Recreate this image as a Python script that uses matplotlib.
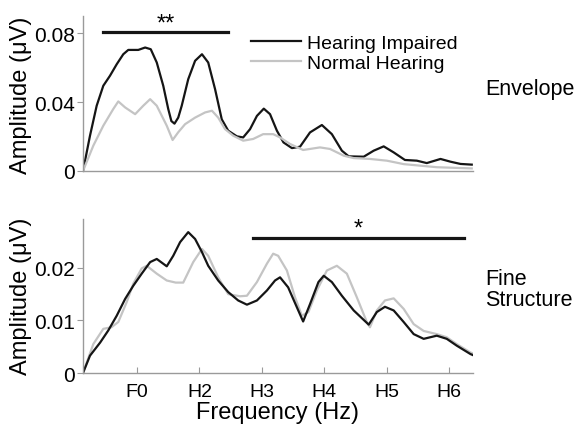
import numpy as np
import matplotlib
matplotlib.use("Agg")
import matplotlib.pyplot as plt

plt.rcParams['font.family'] = ['Liberation Sans', 'DejaVu Sans']

# harmonic positions: F0 = 1, H2 = 2, ... H6 = 6
tick_pos = [1, 2, 3, 4, 5, 6]
tick_labels = ["F0", "H2", "H3", "H4", "H5", "H6"]

# Envelope panel
hi_env_x = [0.135, 0.247, 0.354, 0.46, 0.567, 0.675, 0.78, 0.86, 1.02, 1.13, 1.22, 1.316, 1.42,
            1.50, 1.55, 1.60, 1.66, 1.716, 1.82, 1.93, 2.04, 2.14, 2.25, 2.357, 2.46, 2.60, 2.70,
            2.81, 2.92, 3.03, 3.13, 3.24, 3.345, 3.48, 3.61, 3.77, 3.96, 4.12, 4.28, 4.39, 4.63,
            4.79, 4.95, 5.11, 5.29, 5.48, 5.64, 5.86, 6.02, 6.18, 6.36]
hi_env = [0, 0.0205, 0.0379, 0.0495, 0.0553, 0.062, 0.0678, 0.0703, 0.0703, 0.0717, 0.0707,
          0.063, 0.0495, 0.036, 0.029, 0.0275, 0.031, 0.0379, 0.0533, 0.064, 0.0678, 0.063,
          0.0475, 0.030, 0.0234, 0.0201, 0.0195, 0.0243, 0.032, 0.0362, 0.033, 0.0234, 0.0166,
          0.0133, 0.0141, 0.0224, 0.0267, 0.0214, 0.0118, 0.0085, 0.0083, 0.0118, 0.0143,
          0.0108, 0.0064, 0.006, 0.0046, 0.007, 0.0054, 0.0041, 0.0037]
nh_env_x = [0.135, 0.30, 0.46, 0.62, 0.70, 0.81, 0.97, 1.10, 1.21, 1.316, 1.476, 1.57, 1.66,
            1.77, 1.93, 2.09, 2.20, 2.30, 2.41, 2.54, 2.70, 2.86, 3.02, 3.18, 3.29, 3.45, 3.66,
            3.93, 4.09, 4.31, 4.47, 4.73, 5.0, 5.27, 5.8, 6.36]
nh_env = [0, 0.0147, 0.0263, 0.036, 0.0404, 0.0369, 0.033, 0.0379, 0.0417, 0.0379, 0.0263,
          0.018, 0.0225, 0.0272, 0.031, 0.034, 0.035, 0.031, 0.0243, 0.0205, 0.0176, 0.0186,
          0.0214, 0.0214, 0.0195, 0.0157, 0.0122, 0.0137, 0.0128, 0.0089, 0.0075, 0.007,
          0.006, 0.004, 0.0022, 0.0015]

# Fine structure panel
hi_tfs_x = [0.135, 0.247, 0.41, 0.54, 0.675, 0.81, 0.94, 1.075, 1.21, 1.316, 1.476, 1.58, 1.69,
            1.82, 1.93, 2.04, 2.14, 2.30, 2.46, 2.62, 2.76, 2.92, 3.08, 3.21, 3.29, 3.42, 3.56,
            3.66, 3.77, 3.905, 3.99, 4.12, 4.28, 4.47, 4.71, 4.84, 4.97, 5.11, 5.27, 5.43, 5.59,
            5.80, 5.96, 6.12, 6.34, 6.38]
hi_tfs = [0, 0.0033, 0.0058, 0.0081, 0.0109, 0.0141, 0.0166, 0.0189, 0.0211, 0.0217, 0.0203,
          0.0223, 0.0249, 0.0268, 0.0255, 0.023, 0.0204, 0.0176, 0.0154, 0.0138, 0.013, 0.0138,
          0.0157, 0.0176, 0.0182, 0.0163, 0.0125, 0.0098, 0.0131, 0.0173, 0.0185, 0.0173,
          0.0147, 0.0119, 0.0092, 0.0116, 0.0126, 0.0119, 0.0097, 0.0074, 0.0065, 0.0071,
          0.0065, 0.0052, 0.0036, 0.0034]
nh_tfs_x = [0.135, 0.30, 0.46, 0.59, 0.70, 0.835, 0.94, 1.075, 1.155, 1.316, 1.476, 1.62, 1.74,
            1.90, 2.04, 2.14, 2.30, 2.46, 2.65, 2.76, 2.92, 3.08, 3.18, 3.26, 3.40, 3.53, 3.64,
            3.745, 3.88, 4.04, 4.20, 4.36, 4.52, 4.68, 4.73, 4.84, 4.97, 5.11, 5.27, 5.43, 5.59,
            5.80, 5.96, 6.12, 6.34, 6.38]
nh_tfs = [0, 0.0055, 0.0084, 0.0087, 0.0097, 0.0135, 0.017, 0.0199, 0.0204, 0.0189, 0.0176,
          0.0172, 0.0172, 0.0211, 0.0236, 0.0223, 0.0182, 0.015, 0.0146, 0.0147, 0.0173, 0.0208,
          0.0227, 0.0223, 0.0195, 0.0144, 0.0109, 0.0116, 0.0157, 0.0195, 0.0204, 0.0189,
          0.0144, 0.0097, 0.0087, 0.0119, 0.0138, 0.0142, 0.0122, 0.0093, 0.008, 0.0074,
          0.0068, 0.0055, 0.0039, 0.0037]

# significance bars (start, end, height, label)
sig_env = (0.455, 2.46, 0.0806, "**")
sig_tfs = (2.86, 6.24, 0.0257, "*")

black = "#151515"
grey = "#c4c4c4"
spine_c = "#9a9a9a"

fig = plt.figure(figsize=(5.78, 4.31), dpi=100)
ax1 = fig.add_axes([83 / 578, 1 - 172 / 431, 390 / 578, 155 / 431])
ax2 = fig.add_axes([83 / 578, 1 - 374 / 431, 390 / 578, 154 / 431])

ax1.plot(hi_env_x, hi_env, color=black, lw=1.6, label="Hearing Impaired", solid_joinstyle='round')
ax1.plot(nh_env_x, nh_env, color=grey, lw=1.6, label="Normal Hearing", solid_joinstyle='round')
ax2.plot(nh_tfs_x, nh_tfs, color=grey, lw=1.6, solid_joinstyle='round')
ax2.plot(hi_tfs_x, hi_tfs, color=black, lw=1.6, solid_joinstyle='round')

for ax in (ax1, ax2):
    ax.set_xlim(0.135, 6.38)
    for s in ["top", "right"]:
        ax.spines[s].set_visible(False)
    for s in ["left", "bottom"]:
        ax.spines[s].set_color(spine_c)
        ax.spines[s].set_linewidth(1.0)
    ax.tick_params(axis='y', direction='out', length=4, color=spine_c, labelsize=15, pad=2)

ax1.set_ylim(0, 0.09)
ax1.set_yticks([0, 0.04, 0.08])
ax1.set_yticklabels(["0", "0.04", "0.08"])
ax1.set_xticks([])

ax2.set_ylim(0, 0.0293)
ax2.set_yticks([0, 0.01, 0.02])
ax2.set_yticklabels(["0", "0.01", "0.02"])
ax2.set_xticks(tick_pos)
ax2.set_xticklabels(tick_labels)
ax2.tick_params(axis='x', direction='in', length=4, color=spine_c, labelsize=14, pad=7)

# significance markers
ax1.plot([sig_env[0], sig_env[1]], [sig_env[2], sig_env[2]], color=black, lw=2.3, clip_on=False)
ax1.text((sig_env[0] + sig_env[1]) / 2, sig_env[2] + 0.0015, sig_env[3], ha='center',
         va='baseline', fontsize=17, clip_on=False)
ax2.plot([sig_tfs[0], sig_tfs[1]], [sig_tfs[2], sig_tfs[2]], color=black, lw=2.3, clip_on=False)
ax2.text((sig_tfs[0] + sig_tfs[1]) / 2, sig_tfs[2] + 0.0006, sig_tfs[3], ha='center',
         va='baseline', fontsize=17, clip_on=False)

ax1.legend(loc='center left', bbox_to_anchor=(0.43, 0.76), frameon=False, fontsize=14,
           handlelength=2.6, handletextpad=0.3, labelspacing=0.15, borderpad=0,
           borderaxespad=0)

fig.text(21 / 578, 1 - 95 / 431, "Amplitude (\u03bcV)", rotation=90, ha='center', va='center',
         fontsize=17)
fig.text(21 / 578, 1 - 296 / 431, "Amplitude (\u03bcV)", rotation=90, ha='center', va='center',
         fontsize=17)
fig.text(277 / 578, 1 - 413 / 431, "Frequency (Hz)", ha='center', va='center', fontsize=17)
fig.text(485 / 578, 1 - 90 / 431, "Envelope", ha='left', va='center', fontsize=15.5)
fig.text(485 / 578, 1 - 290 / 431, "Fine\nStructure", ha='left', va='center', fontsize=15.5,
         linespacing=1.0)

fig.savefig("out.png", dpi=100)
